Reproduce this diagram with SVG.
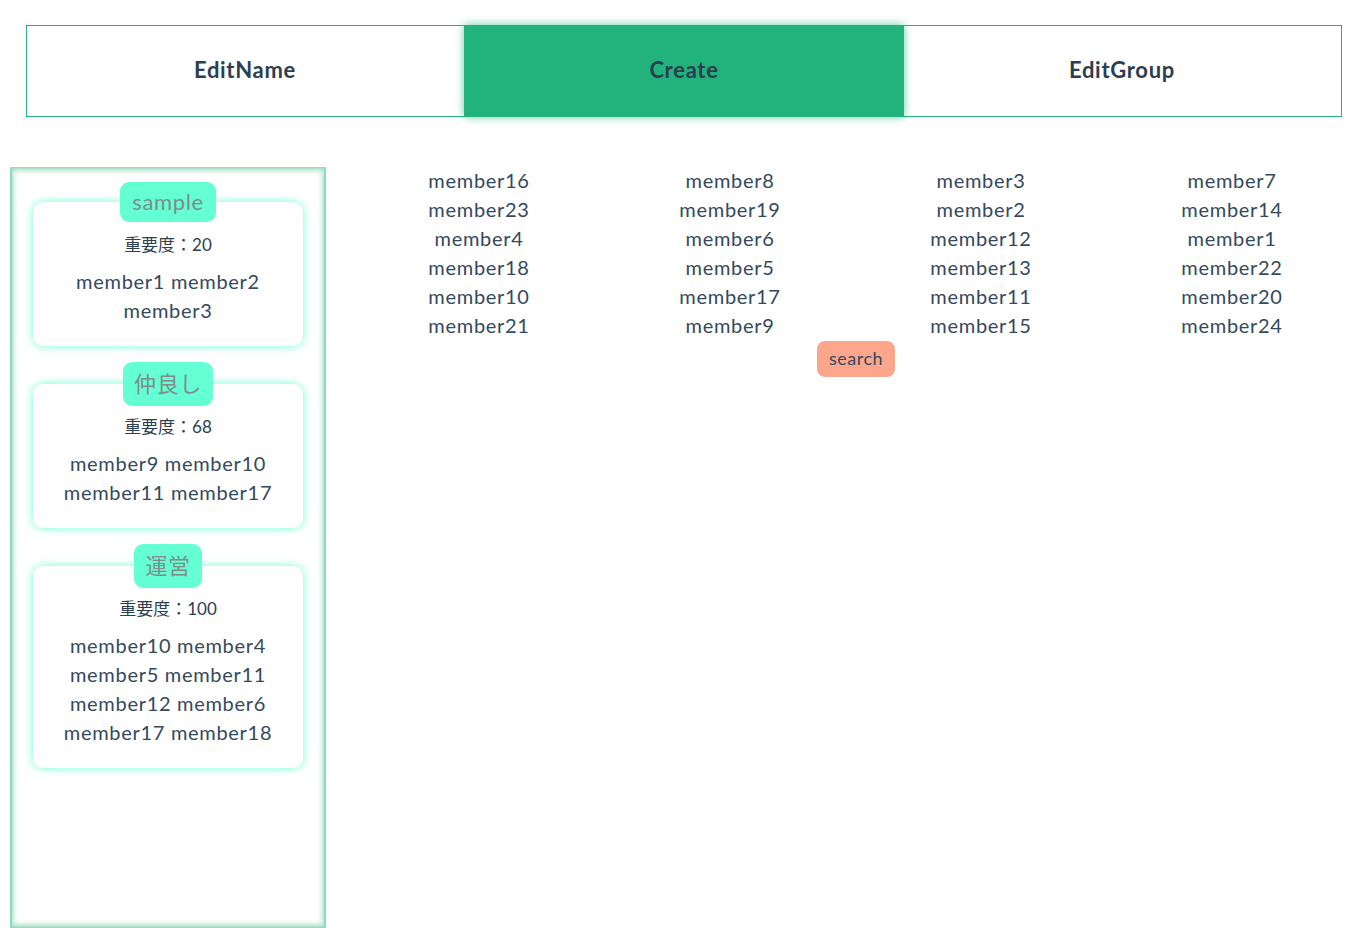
<svg xmlns="http://www.w3.org/2000/svg" width="1357" height="943" viewBox="0 0 1357 943">
<style>
  text { font-family: "Lato", "Noto Sans CJK JP", sans-serif; fill: #2c3e50; text-anchor: middle; }
  .tab { font-size: 22px; font-weight: bold; letter-spacing: 0.7px; }
  .mem { font-size: 20px; fill: #34495e; letter-spacing: 0.7px; }
  .imp { font-size: 17px; }
  .pilltxt { font-size: 22px; fill: #7f8c8d; letter-spacing: 0.6px; }
  .card { fill: #ffffff; filter: url(#glow); }
  .pill { fill: #64ffd2; }
</style>
<defs>
  <filter id="glow" x="-20%" y="-20%" width="140%" height="140%">
    <feDropShadow dx="0" dy="0" stdDeviation="4" flood-color="#64ffd2" flood-opacity="1"/>
  </filter>
  <filter id="tabglow" x="-10%" y="-30%" width="120%" height="160%">
    <feDropShadow dx="0" dy="0" stdDeviation="4" flood-color="#23b37b" flood-opacity="0.7"/>
  </filter>
  <linearGradient id="inL" x1="0" x2="1" y1="0" y2="0">
    <stop offset="0" stop-color="#8fd9b8"/><stop offset="1" stop-color="#ffffff" stop-opacity="0"/>
  </linearGradient>
  <linearGradient id="inR" x1="1" x2="0" y1="0" y2="0">
    <stop offset="0" stop-color="#8fd9b8"/><stop offset="1" stop-color="#ffffff" stop-opacity="0"/>
  </linearGradient>
  <linearGradient id="inT" x1="0" x2="0" y1="0" y2="1">
    <stop offset="0" stop-color="#8fd9b8"/><stop offset="1" stop-color="#ffffff" stop-opacity="0"/>
  </linearGradient>
  <linearGradient id="inB" x1="0" x2="0" y1="1" y2="0">
    <stop offset="0" stop-color="#8fd9b8"/><stop offset="1" stop-color="#ffffff" stop-opacity="0"/>
  </linearGradient>
</defs>
<rect width="1357" height="943" fill="#ffffff"/>

<g id="tabs">
  <rect x="26.5" y="25.5" width="1315" height="91" fill="#ffffff" stroke="#23b37b" stroke-width="1"/>
  <g id="tab-editname"><text class="tab" x="245" y="78">EditName</text></g>
  <g id="tab-create">
    <rect x="464" y="25" width="440" height="92" fill="#23b37b" filter="url(#tabglow)"/>
    <text class="tab" x="684" y="78">Create</text>
  </g>
  <g id="tab-editgroup"><text class="tab" x="1122" y="78">EditGroup</text></g>
</g>

<g id="panel">
  <rect x="10" y="167" width="316" height="761" fill="#ffffff"/>
  <rect x="10" y="167" width="10" height="761" fill="url(#inL)"/>
  <rect x="316" y="167" width="10" height="761" fill="url(#inR)"/>
  <rect x="10" y="167" width="316" height="10" fill="url(#inT)"/>
  <rect x="10" y="918" width="316" height="10" fill="url(#inB)"/>
  <rect x="10" y="167" width="2" height="761" fill="#8fd9b8"/>
  <rect x="324" y="167" width="2" height="761" fill="#8fd9b8"/>
</g>

<g id="group-sample">
  <rect class="card" x="33" y="202" width="270" height="144" rx="10"/>
  <rect class="pill" x="120" y="182" width="96" height="40" rx="9"/>
  <text class="pilltxt" x="168" y="210">sample</text>
  <text class="imp" x="168" y="251">重要度：20</text>
  <text class="mem" x="168" y="289">member1 member2</text>
  <text class="mem" x="168" y="318">member3</text>
</g>

<g id="group-nakayoshi">
  <rect class="card" x="33" y="384" width="270" height="144" rx="10"/>
  <rect class="pill" x="123" y="362" width="90" height="44" rx="9"/>
  <text class="pilltxt" x="168" y="392">仲良し</text>
  <text class="imp" x="168" y="433">重要度：68</text>
  <text class="mem" x="168" y="471">member9 member10</text>
  <text class="mem" x="168" y="500">member11 member17</text>
</g>

<g id="group-unei">
  <rect class="card" x="33" y="566" width="270" height="202" rx="10"/>
  <rect class="pill" x="134" y="544" width="68" height="44" rx="9"/>
  <text class="pilltxt" x="168" y="574">運営</text>
  <text class="imp" x="168" y="615">重要度：100</text>
  <text class="mem" x="168" y="653">member10 member4</text>
  <text class="mem" x="168" y="682">member5 member11</text>
  <text class="mem" x="168" y="711">member12 member6</text>
  <text class="mem" x="168" y="740">member17 member18</text>
</g>

<g id="members">
  <g id="col1">
    <text class="mem" x="479" y="188">member16</text>
    <text class="mem" x="479" y="217">member23</text>
    <text class="mem" x="479" y="246">member4</text>
    <text class="mem" x="479" y="275">member18</text>
    <text class="mem" x="479" y="304">member10</text>
    <text class="mem" x="479" y="333">member21</text>
  </g>
  <g id="col2">
    <text class="mem" x="730" y="188">member8</text>
    <text class="mem" x="730" y="217">member19</text>
    <text class="mem" x="730" y="246">member6</text>
    <text class="mem" x="730" y="275">member5</text>
    <text class="mem" x="730" y="304">member17</text>
    <text class="mem" x="730" y="333">member9</text>
  </g>
  <g id="col3">
    <text class="mem" x="981" y="188">member3</text>
    <text class="mem" x="981" y="217">member2</text>
    <text class="mem" x="981" y="246">member12</text>
    <text class="mem" x="981" y="275">member13</text>
    <text class="mem" x="981" y="304">member11</text>
    <text class="mem" x="981" y="333">member15</text>
  </g>
  <g id="col4">
    <text class="mem" x="1232" y="188">member7</text>
    <text class="mem" x="1232" y="217">member14</text>
    <text class="mem" x="1232" y="246">member1</text>
    <text class="mem" x="1232" y="275">member22</text>
    <text class="mem" x="1232" y="304">member20</text>
    <text class="mem" x="1232" y="333">member24</text>
  </g>
</g>

<g id="search-button">
  <rect x="817" y="341" width="78" height="36" rx="8" fill="#fca78b"/>
  <text class="mem" x="856" y="365" style="font-size:18px;letter-spacing:0.5px">search</text>
</g>

<g id="connectors"/>
</svg>
